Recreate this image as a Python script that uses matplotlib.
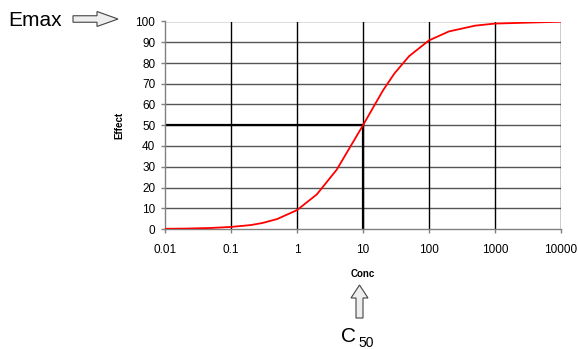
import numpy as np
import matplotlib
matplotlib.use("Agg")
import matplotlib.pyplot as plt
from matplotlib.patches import FancyArrow

plt.rcParams['font.family'] = ['Liberation Sans', 'DejaVu Sans']

# ── data ─────────────────────────────────────────────────────────────────
conc   = [0.01, 0.02, 0.05, 0.1, 0.2, 0.3, 0.5, 1, 2, 4, 10,
          20, 30, 50, 100, 200, 500, 1000, 10000]
effect = [0.1, 0.2, 0.5, 1.0, 1.9, 2.9, 4.8, 9.1, 16.7, 28.6, 50.0,
          66.7, 75.0, 83.3, 90.9, 95.2, 98.0, 99.0, 99.9]
c50, e50 = 10, 50
x_ticks = [0.01, 0.1, 1, 10, 100, 1000, 10000]
x_labels = ["0.01", "0.1", "1", "10", "100", "1000", "10000"]
y_ticks = list(range(0, 101, 10))

W, H = 578, 349
fig = plt.figure(figsize=(W / 100, H / 100), dpi=100)
ax = fig.add_axes([165 / W, 1 - 229 / H, (561 - 165) / W, (229 - 21.5) / H])

ax.set_xscale("log")
ax.set_xlim(0.01, 10000)
ax.set_ylim(0, 100)
ax.set_xticks(x_ticks)
ax.set_xticklabels(x_labels)
ax.minorticks_off()
ax.set_yticks(y_ticks)

for y in y_ticks[1:]:
    ax.axhline(y, color="#555555", lw=1.0, zorder=1)
for x in x_ticks[1:]:
    ax.axvline(x, color="black", lw=1.0, zorder=1)

ax.plot([0.01, c50], [e50, e50], color="black", lw=1.6, zorder=2)
ax.plot([c50, c50], [e50, 0], color="black", lw=1.6, zorder=2)
ax.plot(conc, effect, color="red", lw=1.3, zorder=3)

for s in ["top", "right"]:
    ax.spines[s].set_visible(False)
for s in ["left", "bottom"]:
    ax.spines[s].set_color("#808080")
    ax.spines[s].set_linewidth(1.0)
ax.tick_params(axis="both", which="major", labelsize=8.5, color="#808080",
               length=3, width=1, direction="out")
ax.tick_params(axis="x", pad=8)
ax.tick_params(axis="y", pad=4)

ax.set_xlabel("Conc", fontsize=7, fontweight="bold", labelpad=9)
ax.set_ylabel("Effect", fontsize=7, fontweight="bold", labelpad=8)

# ── annotations (in inches, figure pixel grid / 100) ─────────────────────
def px(x, y):
    return x / 100, (H - y) / 100

tr = fig.dpi_scale_trans
x0, y0 = px(73, 19)
fig.patches.append(FancyArrow(x0, y0, 0.45, 0, width=0.065, head_width=0.15,
                              head_length=0.21, length_includes_head=True,
                              fc="#eeeeee", ec="#444444", lw=0.8, transform=tr))
x1, y1 = px(359.5, 318)
fig.patches.append(FancyArrow(x1, y1, 0, 0.33, width=0.07, head_width=0.17,
                              head_length=0.13, length_includes_head=True,
                              fc="#eeeeee", ec="#444444", lw=0.8, transform=tr))

fig.text(8 / W, 1 - 21 / H, "Emax", fontsize=15, ha="left", va="center")
fig.text(341 / W, 1 - 342 / H, "C", fontsize=15, ha="left", va="baseline")
fig.text(358 / W, 1 - 347 / H, "50", fontsize=10, ha="left", va="baseline")

fig.savefig("out.png", dpi=100)
